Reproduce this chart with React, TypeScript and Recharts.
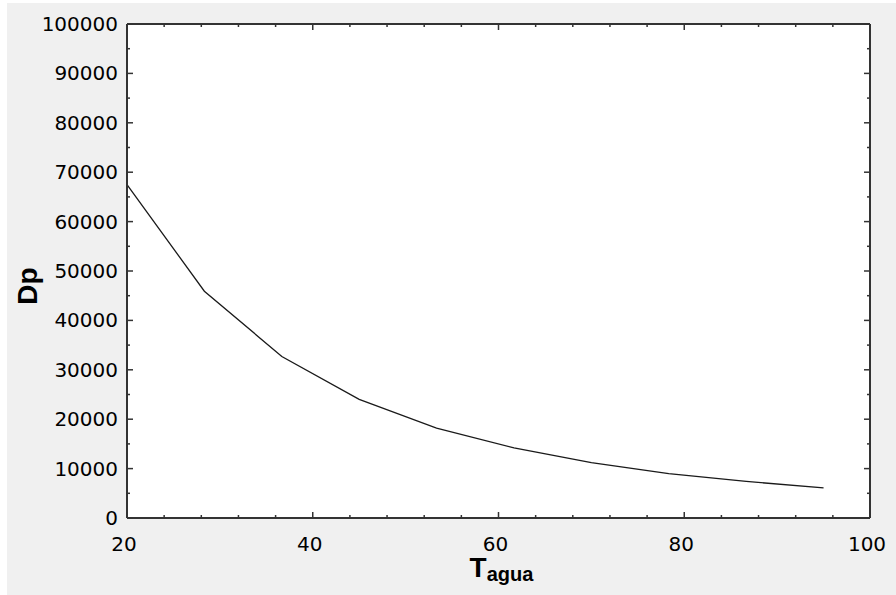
import { LineChart, Line, XAxis, YAxis, CartesianGrid } from 'recharts'

const tagua = [20, 28.33, 36.67, 45, 53.33, 61.67, 70, 78.33, 86.67, 95]
const dp = [67500, 45900, 32700, 24000, 18200, 14200, 11200, 9000, 7400, 6100]

const xTicks = [20, 24, 28, 32, 36, 40, 44, 48, 52, 56, 60, 64, 68, 72, 76, 80, 84, 88, 92, 96, 100]
const yTicks = [
  0, 5000, 10000, 15000, 20000, 25000, 30000, 35000, 40000, 45000, 50000,
  55000, 60000, 65000, 70000, 75000, 80000, 85000, 90000, 95000, 100000,
]

const data = tagua.map((t, i) => ({ t, dp: dp[i] }))

const tickColor = '#333'
const labelFont = '"DejaVu Sans", sans-serif'

const isMajorX = (v: number) => v % 20 === 0
const isMajorY = (v: number) => v % 10000 === 0

function BottomTick({ x, y, payload }: any) {
  const major = isMajorX(payload.value)
  return (
    <g>
      <line x1={x} x2={x} y1={y} y2={y - (major ? 6 : 3)} stroke={tickColor} strokeWidth={1.5} />
      {major && (
        <text x={x - 3} y={y + 33} textAnchor="middle" fontSize={20} fontFamily={labelFont} fill="#000">
          {payload.value}
        </text>
      )}
    </g>
  )
}

function TopTick({ x, y, payload }: any) {
  const major = isMajorX(payload.value)
  return <line x1={x} x2={x} y1={y} y2={y + (major ? 6 : 3)} stroke={tickColor} strokeWidth={1.5} />
}

function LeftTick({ x, y, payload }: any) {
  const major = isMajorY(payload.value)
  return (
    <g>
      <line x1={x} x2={x + (major ? 6 : 3)} y1={y} y2={y} stroke={tickColor} strokeWidth={1.5} />
      {major && (
        <text x={x - 9} y={y + 7} textAnchor="end" fontSize={20} fontFamily={labelFont} fill="#000">
          {payload.value}
        </text>
      )}
    </g>
  )
}

function RightTick({ x, y, payload }: any) {
  const major = isMajorY(payload.value)
  return <line x1={x} x2={x - (major ? 6 : 3)} y1={y} y2={y} stroke={tickColor} strokeWidth={1.5} />
}

function XTitle({ viewBox }: any) {
  const cx = viewBox.x + viewBox.width / 2 + 3
  return (
    <text x={cx} y={577} textAnchor="middle" fontFamily='"Liberation Sans", Arial, sans-serif' fontWeight="bold" fill="#000">
      <tspan fontSize={28}>T</tspan>
      <tspan fontSize={20} dy={4}>agua</tspan>
    </text>
  )
}

function YTitle() {
  return (
    <text
      transform="translate(37,286) rotate(-90)"
      textAnchor="middle"
      fontFamily='"Liberation Sans", Arial, sans-serif'
      fontWeight="bold"
      fontSize={28}
      fill="#000"
    >
      Dp
    </text>
  )
}

export default function App() {
  return (
    <div style={{ position: 'absolute', left: 0, top: 0, width: 896, height: 595, background: '#fff' }}>
      <div style={{ position: 'absolute', left: 7, top: 3, right: 0, bottom: 0, background: '#f0f0f0' }} />
      <div style={{ position: 'absolute', left: 0, top: 0 }}>
        <LineChart width={896} height={595} data={data} margin={{ top: 23, right: 25, left: 67, bottom: 27 }}>
          <CartesianGrid horizontal={false} vertical={false} fill="#fff" />
          <XAxis
            dataKey="t"
            type="number"
            domain={[20, 100]}
            ticks={xTicks}
            interval={0}
            height={50}
            tickSize={0}
            tickMargin={0}
            tickLine={false}
            tick={BottomTick}
            axisLine={{ stroke: tickColor, strokeWidth: 2 }}
            label={XTitle}
          />
          <XAxis
            xAxisId="top"
            orientation="top"
            dataKey="t"
            type="number"
            domain={[20, 100]}
            ticks={xTicks}
            interval={0}
            height={1}
            tickSize={0}
            tickMargin={0}
            tickLine={false}
            tick={TopTick}
            axisLine={{ stroke: tickColor, strokeWidth: 2 }}
          />
          <YAxis
            type="number"
            domain={[0, 100000]}
            ticks={yTicks}
            interval={0}
            width={60}
            tickSize={0}
            tickMargin={0}
            tickLine={false}
            tick={LeftTick}
            axisLine={{ stroke: tickColor, strokeWidth: 2 }}
            label={YTitle}
          />
          <YAxis
            yAxisId="right"
            orientation="right"
            type="number"
            domain={[0, 100000]}
            ticks={yTicks}
            interval={0}
            width={1}
            tickSize={0}
            tickMargin={0}
            tickLine={false}
            tick={RightTick}
            axisLine={{ stroke: tickColor, strokeWidth: 2 }}
          />
          {/* invisible copy bound to the frame axes so they get drawn */}
          <Line
            xAxisId="top"
            yAxisId="right"
            type="linear"
            dataKey="dp"
            stroke="none"
            dot={false}
            activeDot={false}
            isAnimationActive={false}
            legendType="none"
          />
          <Line
            type="linear"
            dataKey="dp"
            stroke="#1a1a1a"
            strokeWidth={1.3}
            dot={false}
            activeDot={false}
            isAnimationActive={false}
          />
        </LineChart>
      </div>
    </div>
  )
}
